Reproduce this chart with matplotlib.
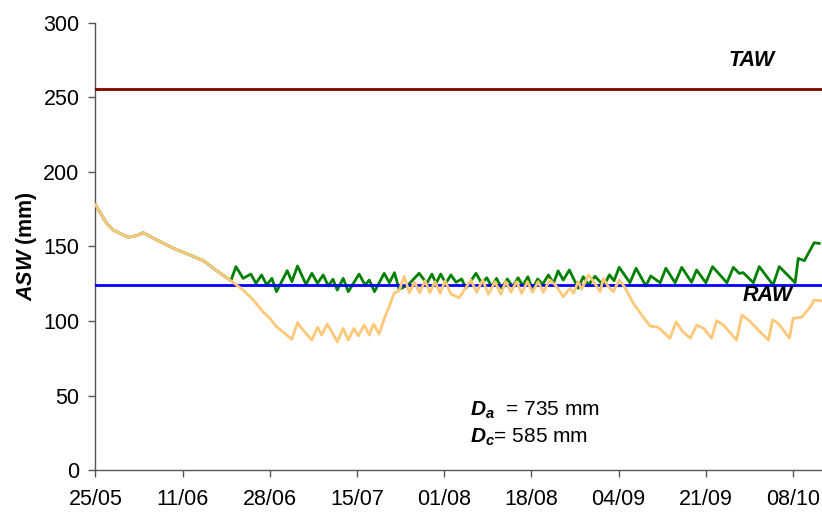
import matplotlib
matplotlib.use("Agg")
import matplotlib.pyplot as plt

# ---------------- data (days since 25/05, value in mm) ----------------
tick_days = [0, 17, 34, 51, 68, 85, 102, 119, 136]
tick_labels = ["25/05", "11/06", "28/06", "15/07", "01/08", "18/08", "04/09", "21/09", "08/10"]

common_days = [0, 2.2, 3.5, 6.4, 8.05, 9.3, 11.95, 15.2, 18.4, 21.05, 23.2, 26.4]
common_vals = [178, 165.5, 161, 156.2, 157.3, 159.3, 154.4, 148.8, 144.3, 140.5, 134.9, 127]

green_days = [27.4, 28.8, 30.3, 31.3, 32.4, 33.4, 34.4, 35.3, 37.4, 38.3, 39.4, 41.05,
              42.2, 43.3, 44.4, 45.4, 46.3, 47.15, 48.3, 49.3, 51.4, 52.55, 53.4, 54.4,
              56.3, 57.3, 58.3, 59.2, 60.9, 63.1, 64.6, 65.6, 66.4, 67.3, 68.3, 69.3,
              70.3, 71.4, 72.2, 74.2, 75.3, 76.3, 77.25, 78.2, 79.2, 80.3, 81.35, 82.4,
              83.3, 84.3, 85.2, 86.2, 87.2, 88.3, 89.3, 90.2, 91.2, 92.4, 94.1, 95.1,
              96.1, 97.4, 99.1, 100.2, 101.1, 102.1, 104.2, 105.4, 107.3, 108.25, 110.1,
              111.2, 113.0, 114.3, 116.2, 117.2, 119.0, 120.3, 123.1, 124.35, 125.5,
              126.3, 128.25, 129.4, 132.1, 133.3, 136.4, 137.0, 138.2, 140.1, 141.1]
green_vals = [136.5, 128.6, 131.5, 125.3, 130.9, 124.2, 128.6, 119.7, 133.8, 126.4, 136.9, 124.6,
              132, 125.3, 130.9, 123.5, 128, 120.8, 128.6, 119.7, 131.5, 124.2, 127.5, 119.7,
              132, 125.7, 132.4, 121.3, 124, 132, 125.3, 131.5, 125.3, 131.5, 125.3, 130.9,
              126, 128.2, 122, 132, 125.3, 129, 123, 128.6, 122, 128.2, 123, 129,
              123.7, 129.7, 120.8, 128.2, 124.6, 130.9, 125.3, 133.6, 127.5, 134.2, 122, 129.7,
              124.2, 130, 123.5, 131, 127, 136, 125.7, 135.4, 123.5, 130.2, 125.7,
              135.4, 125.7, 136, 126, 134.2, 125.7, 136.5, 125.7, 136, 132,
              132.4, 125.7, 136.5, 124.2, 136.5, 125.7, 142, 140.5, 152.5, 152.1]

orange_days = [28.8, 30.8, 32.7, 34.0, 35.3, 38.3, 39.4, 40.2, 42.2, 43.3, 44.1, 45.2,
               47.15, 48.3, 49.3, 50.4, 51.25, 52.4, 53.4, 54.2, 55.3, 56.45, 57.4, 58.2,
               59.2, 60.2, 61.2, 62.2, 63.2, 64.25, 65.2, 66.2, 67.2, 68.15, 69.3, 70.9,
               73.2, 74.3, 75.5, 76.6, 77.9, 79.0, 80.0, 81.0, 82.1, 83.1, 84.2, 85.2,
               86.3, 87.3, 88.6, 89.7, 91.2, 92.5, 93.2, 94.1, 94.8, 96.1, 96.9, 98.4,
               99.0, 100.0, 100.95, 102.1, 103.2, 104.85, 105.8, 108.1, 109.7, 112.0,
               113.2, 114.5, 116.0, 117.2, 118.6, 120.1, 121.1, 122.4, 125.0, 126.0,
               127.3, 129.55, 131.2, 132.0, 133.1, 135.3, 136.0, 137.7, 139.3, 140.1, 141.4]
orange_vals = [120.8, 114, 106, 101.8, 96.2, 87.7, 98.9, 95, 87.2, 95.8, 90.6, 98,
               86.1, 95, 87.2, 95, 90, 97.3, 90.6, 98, 91.3, 102.9, 110.7, 118.6,
               120.3, 130, 119, 126, 119, 127, 119, 126.4, 118.6, 127, 118.1, 115.6,
               127.5, 119.3, 127.5, 117.9, 126.4, 117.9, 126.4, 119.3, 126.4, 118.6, 126.4, 119.3,
               126.4, 119.3, 127.5, 124, 116.3, 122, 118.6, 126.4, 121.3, 130.9, 127.5, 119.7,
               128.6, 123, 119.7, 127.5, 122.6, 111.9, 107.4, 96.6, 95.8, 88.4,
               99.5, 92.8, 88.4, 97.3, 95, 88.4, 100.2, 97.3, 87.2, 104,
               100.7, 92.8, 87.2, 100.7, 98.5, 88.4, 101.8, 102.5, 109.2, 114.1, 113.6]

TAW = 256
RAW = 124
Da = 735
Dc = 585

# ---------------- figure ----------------
plt.rcParams['font.family'] = ['Liberation Sans', 'DejaVu Sans']
plt.rcParams['mathtext.fontset'] = 'custom'
plt.rcParams['mathtext.rm'] = 'Liberation Sans'
plt.rcParams['mathtext.bf'] = 'Liberation Sans:bold'
plt.rcParams['mathtext.bfit'] = 'Liberation Sans:bold:italic'
plt.rcParams['mathtext.it'] = 'Liberation Sans:italic'

fig = plt.figure(figsize=(8.22, 5.13), dpi=100)
ax = fig.add_axes([95.4 / 822, 43 / 513, 1 - 95.4 / 822, 447 / 513])

g_x = common_days + green_days
g_y = common_vals + green_vals
o_x = common_days + orange_days
o_y = common_vals + orange_vals

ax.plot(g_x, g_y, color='#008000', lw=2.0, zorder=2)
ax.axhline(RAW, color='#0000FF', lw=2.0, zorder=3)
ax.axhline(TAW, color='#800000', lw=2.0, zorder=3)
ax.plot(o_x, o_y, color='#FFC878', lw=2.0, zorder=4)

ax.set_xlim(0, (822 - 95.4) / 5.13)
ax.set_ylim(0, 300)
ax.set_yticks(range(0, 301, 50))
ax.set_xticks(tick_days)
ax.set_xticklabels(tick_labels)

for s in ['top', 'right']:
    ax.spines[s].set_visible(False)
for s in ['left', 'bottom']:
    ax.spines[s].set_color('#555555')
    ax.spines[s].set_linewidth(1.0)

ax.tick_params(axis='both', direction='out', length=5, width=1.0, color='#555555',
               labelsize=15.5)
ax.tick_params(axis='y', pad=6.5)
ax.tick_params(axis='x', pad=9)

ax.set_ylabel(r'$\mathbfit{ASW}$' + ' (mm)', fontsize=15.5, fontweight='bold', labelpad=3)

ax.text(128, 275, 'TAW', fontsize=15.5, fontweight='bold', fontstyle='italic',
        ha='center', va='center')
ax.text(131, 117, 'RAW', fontsize=15.5, fontweight='bold', fontstyle='italic',
        ha='center', va='center')

ax.text(73, 40, r'$\mathbfit{D}_{\mathbfit{a}}$' + f'  = {Da} mm', fontsize=15,
        ha='left', va='center')
ax.text(73, 22, r'$\mathbfit{D}_{\mathbfit{c}}$' + f'= {Dc} mm', fontsize=15,
        ha='left', va='center')

fig.savefig('out.png', dpi=100)
